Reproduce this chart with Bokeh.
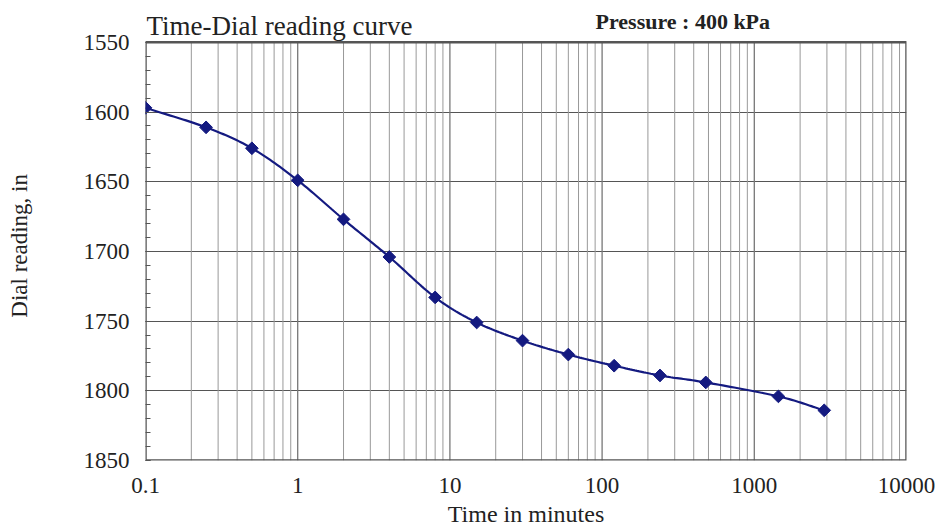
import numpy as np
from bokeh.plotting import figure
from bokeh.models import Range1d, FixedTicker, Label
from bokeh.embed import file_html
from bokeh.resources import INLINE

# Data
time_min = [0.1, 0.25, 0.5, 1, 2, 4, 8, 15, 30, 60, 120, 240, 480, 1440, 2880]
dial_reading = [1597, 1611, 1626, 1649, 1677, 1704, 1733, 1751, 1764, 1774, 1782, 1789, 1794, 1804, 1814]
x_ticks = [0.1, 1, 10, 100, 1000, 10000]
x_tick_labels = ["0.1", "1", "10", "100", "1000", "10000"]
y_ticks = [1550, 1600, 1650, 1700, 1750, 1800, 1850]

FONT = "Liberation Serif"
X_MIN, X_MAX = x_ticks[0], x_ticks[-1]
Y_TOP, Y_BOT = y_ticks[0], y_ticks[-1]

# The frame extends above the chart box so that the title texts (which
# annotations clip to the frame) stay visible; the box itself is drawn below.
TOP_MARGIN = 2
BOX_TOP_PX = 42
PX_PER_UNIT = 420 / (Y_BOT - Y_TOP)
y_frame_top = Y_TOP - (BOX_TOP_PX - TOP_MARGIN) / PX_PER_UNIT

p = figure(width=937, height=529, x_axis_type="log",
           x_range=Range1d(X_MIN, X_MAX), y_range=Range1d(Y_BOT, y_frame_top),
           output_backend="svg", toolbar_location=None,
           min_border_left=145, min_border_right=31, min_border_top=TOP_MARGIN, min_border_bottom=67)
p.background_fill_color = "white"
p.border_fill_color = "white"
p.outline_line_color = None

minor_x = [m * d for d in [0.1, 1, 10, 100, 1000] for m in range(2, 10)]
p.xaxis.ticker = FixedTicker(ticks=x_ticks, minor_ticks=minor_x)
p.xaxis.major_label_overrides = {t: s for t, s in zip(x_ticks, x_tick_labels)}
p.xaxis.major_tick_out = 0
p.xaxis.major_tick_in = 0
p.xaxis.minor_tick_out = 0
p.xaxis.minor_tick_in = 0
p.xaxis.axis_line_color = None
p.xaxis.major_label_standoff = 17
p.xaxis.major_label_text_font = FONT
p.xaxis.major_label_text_font_size = "23px"
p.xaxis.major_label_text_color = "#222222"
p.xaxis.axis_label = "Time in minutes"
p.xaxis.axis_label_text_font = FONT
p.xaxis.axis_label_text_font_size = "24px"
p.xaxis.axis_label_text_font_style = "normal"
p.xaxis.axis_label_text_color = "#222222"
p.xaxis.axis_label_standoff = 5

p.yaxis.ticker = FixedTicker(ticks=y_ticks, minor_ticks=list(range(Y_TOP, Y_BOT + 1, 10)))
p.yaxis.major_tick_out = 0
p.yaxis.major_tick_in = 5
p.yaxis.minor_tick_out = 0
p.yaxis.minor_tick_in = 5
p.yaxis.major_tick_line_color = "#555555"
p.yaxis.minor_tick_line_color = "#555555"
p.yaxis.axis_line_color = None
p.yaxis.major_label_standoff = 16
p.yaxis.major_label_text_font = FONT
p.yaxis.major_label_text_font_size = "23px"
p.yaxis.major_label_text_color = "#222222"
# trailing no-break spaces centre the label on the box rather than the taller frame
p.yaxis.axis_label = "Dial reading, in" + "\u00a0" * 5
p.yaxis.axis_label_text_font = FONT
p.yaxis.axis_label_text_font_size = "23px"
p.yaxis.axis_label_text_font_style = "normal"
p.yaxis.axis_label_text_color = "#222222"
p.yaxis.axis_label_standoff = 49

# grid: horizontal via the grid model, vertical as segments limited to the box
p.xgrid.grid_line_color = None
p.ygrid.ticker = FixedTicker(ticks=y_ticks[1:-1])
p.ygrid.grid_line_color = "#555555"
p.ygrid.grid_line_width = 1.2
p.segment(x0=minor_x, y0=[Y_TOP] * len(minor_x), x1=minor_x, y1=[Y_BOT] * len(minor_x),
          line_color="#999999", line_width=1)
inner_major = x_ticks[1:-1]
p.segment(x0=inner_major, y0=[Y_TOP] * len(inner_major), x1=inner_major, y1=[Y_BOT] * len(inner_major),
          line_color="#777777", line_width=1.3)
p.quad(left=[X_MIN], right=[X_MAX], top=[Y_TOP], bottom=[Y_BOT],
       fill_color=None, line_color="#555555", line_width=2.5)

# smoothed line (Catmull-Rom in log-x space), like a spreadsheet smoothed line
lx = np.log10(np.array(time_min, dtype=float))
yy = np.array(dial_reading, dtype=float)
P = np.column_stack([lx, yy])
Pe = np.vstack([P[0] - (P[1] - P[0]), P, P[-1] + (P[-1] - P[-2])])
sx, sy = [], []
for i in range(1, len(Pe) - 2):
    p0, p1, p2, p3 = Pe[i - 1], Pe[i], Pe[i + 1], Pe[i + 2]
    for t in np.linspace(0, 1, 20, endpoint=False):
        t2, t3 = t * t, t * t * t
        pt = 0.5 * ((2 * p1) + (-p0 + p2) * t + (2 * p0 - 5 * p1 + 4 * p2 - p3) * t2 + (-p0 + 3 * p1 - 3 * p2 + p3) * t3)
        sx.append(pt[0]); sy.append(pt[1])
sx.append(P[-1][0]); sy.append(P[-1][1])
p.line(10 ** np.array(sx), sy, line_color="#141a80", line_width=2.2)
p.scatter(time_min, dial_reading, marker="square", angle=np.pi / 4, size=9,
          fill_color="#141a80", line_color="#141a80")

p.add_layout(Label(x=X_MIN, y=Y_TOP, x_offset=1, y_offset=16, text="Time-Dial reading curve",
                   text_font=FONT, text_font_size="27px", text_color="#222222",
                   text_baseline="alphabetic", text_align="left"))
p.add_layout(Label(x=X_MAX, y=Y_TOP, x_offset=-311, y_offset=21, text="Pressure : 400 kPa",
                   text_font=FONT, text_font_size="22px", text_font_style="bold", text_color="#222222",
                   text_baseline="alphabetic", text_align="left"))

open("out.html", "w").write(file_html(p, INLINE))
